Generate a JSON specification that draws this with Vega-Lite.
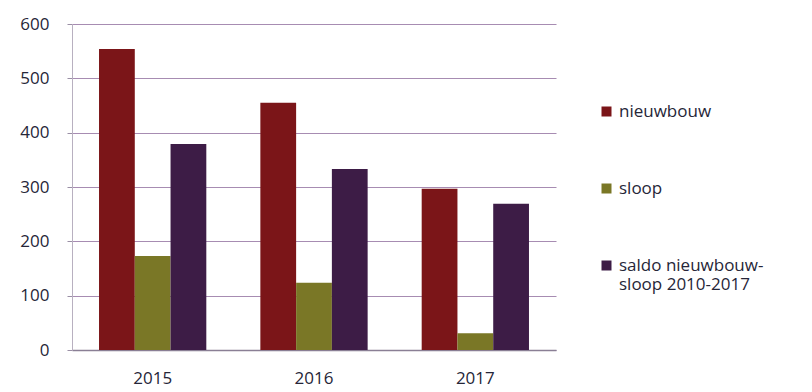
{
  "$schema": "https://vega.github.io/schema/vega-lite/v6.json",
  "width": 484,
  "height": 326,
  "autosize": {"type": "none"},
  "padding": {"left": 72, "top": 24, "right": 256, "bottom": 42},
  "background": "white",
  "data": {
    "values": [
      {"jaar": "2015", "serie": "nieuwbouw", "waarde": 554},
      {"jaar": "2015", "serie": "sloop", "waarde": 173},
      {"jaar": "2015", "serie": "saldo nieuwbouw-sloop 2010-2017", "waarde": 379},
      {"jaar": "2016", "serie": "nieuwbouw", "waarde": 455},
      {"jaar": "2016", "serie": "sloop", "waarde": 124},
      {"jaar": "2016", "serie": "saldo nieuwbouw-sloop 2010-2017", "waarde": 333},
      {"jaar": "2017", "serie": "nieuwbouw", "waarde": 297},
      {"jaar": "2017", "serie": "sloop", "waarde": 31},
      {"jaar": "2017", "serie": "saldo nieuwbouw-sloop 2010-2017", "waarde": 269}
    ]
  },
  "config": {
    "view": {"stroke": null},
    "font": "Open Sans"
  },
  "mark": {"type": "bar"},
  "encoding": {
    "x": {
      "field": "jaar",
      "type": "nominal",
      "scale": {"paddingInner": 0.335, "paddingOuter": 0.1675},
      "axis": {
        "title": null,
        "labelAngle": 0,
        "labelFontSize": 17,
        "labelColor": "#262638",
        "labelPadding": 20,
        "ticks": false,
        "domainColor": "#8a7f95",
        "domainWidth": 1.5
      }
    },
    "xOffset": {
      "field": "serie",
      "type": "nominal",
      "sort": ["nieuwbouw", "sloop", "saldo nieuwbouw-sloop 2010-2017"],
      "scale": {"paddingInner": 0, "paddingOuter": 0}
    },
    "y": {
      "field": "waarde",
      "type": "quantitative",
      "scale": {"domain": [0, 600]},
      "axis": {
        "title": null,
        "values": [0, 100, 200, 300, 400, 500, 600],
        "labelFontSize": 17,
        "labelColor": "#262638",
        "labelPadding": 18,
        "tickSize": 5,
        "tickColor": "#9a8fa5",
        "domainColor": "#b8b0c0",
        "gridColor": "#a78cb2",
        "gridWidth": 1.2
      }
    },
    "color": {
      "field": "serie",
      "type": "nominal",
      "sort": ["nieuwbouw", "sloop", "saldo nieuwbouw-sloop 2010-2017"],
      "scale": {
        "domain": ["nieuwbouw", "sloop", "saldo nieuwbouw-sloop 2010-2017"],
        "range": ["#7b1518", "#7a7726", "#3d1c46"]
      },
      "legend": {
        "title": null,
        "orient": "none",
        "legendX": 526,
        "legendY": 79,
        "symbolType": "square",
        "symbolSize": 100,
        "symbolStrokeWidth": 0,
        "labelFontSize": 17,
        "labelColor": "#262638",
        "labelOffset": 4,
        "rowPadding": 59,
        "labelLimit": 300,
        "labelExpr": "datum.label == 'saldo nieuwbouw-sloop 2010-2017' ? ['saldo nieuwbouw-', 'sloop 2010-2017'] : datum.label",
        "encoding": {
          "labels": {"update": {"lineHeight": {"value": 27}}}
        }
      }
    }
  }
}
